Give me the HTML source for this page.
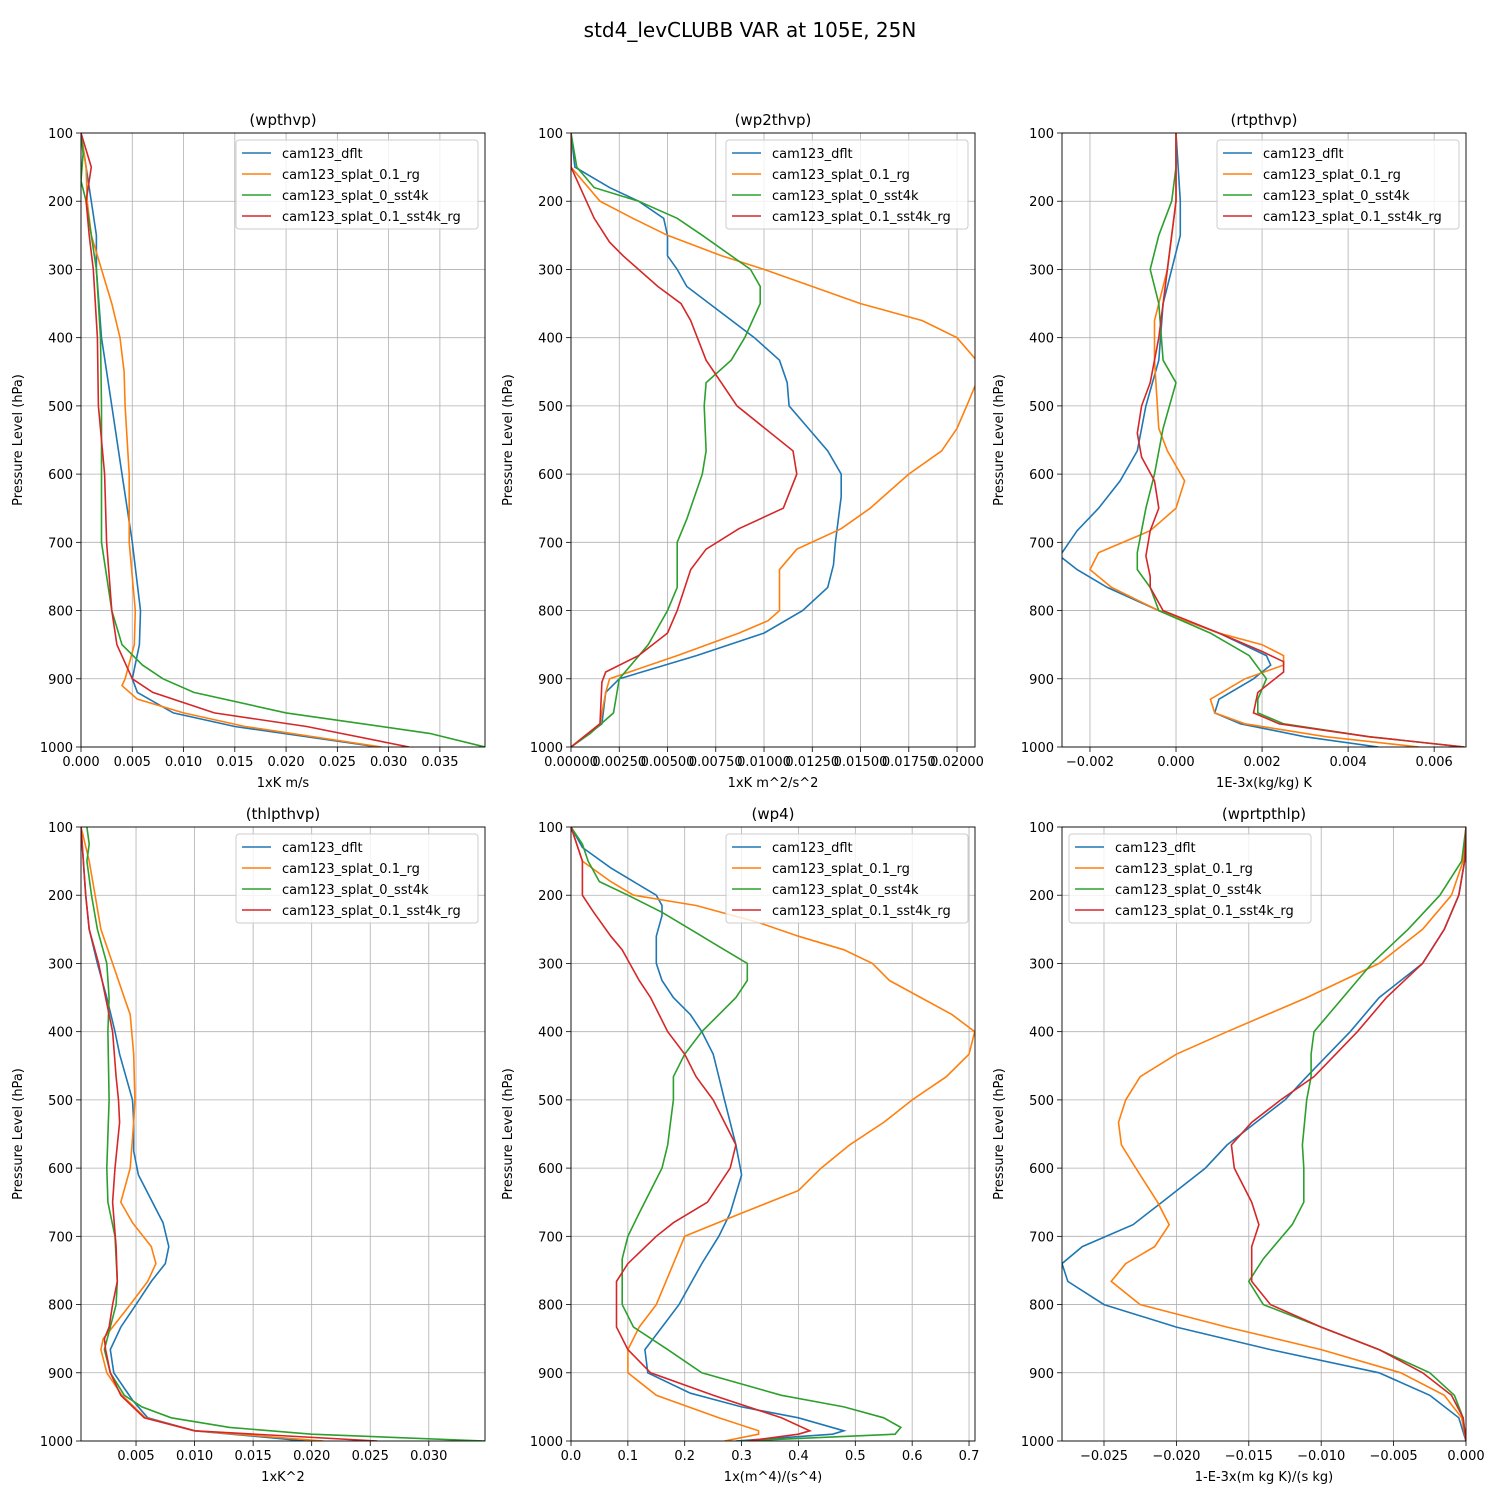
<!DOCTYPE html>
<html><head><meta charset="utf-8">
<style>
body{margin:0;background:#fff;}
svg text{font-family:"DejaVu Sans","Liberation Sans",sans-serif;}
</style></head>
<body>
<svg id="fig" width="1500" height="1500" viewBox="0 0 1500 1500" xmlns="http://www.w3.org/2000/svg">
<rect width="1500" height="1500" fill="#fff"/>
<text x="750" y="37" text-anchor="middle" font-size="20">std4_levCLUBB VAR at 105E, 25N</text>
</svg>
<script>
const seriesNames = ["cam123_dflt","cam123_splat_0.1_rg","cam123_splat_0_sst4k","cam123_splat_0.1_sst4k_rg"];
const colors = ["#1f77b4","#ff7f0e","#2ca02c","#d62728"];
const pressureTicks = [100,200,300,400,500,600,700,800,900,1000];

// panel 1: wpthvp  [pressure, value]
const wpthvp_dflt = [[100,0],[150,0.0005],[200,0.001],[250,0.0015],[300,0.0015],[400,0.002],[500,0.003],[600,0.004],[700,0.005],[800,0.0058],[850,0.0057],[900,0.005],[920,0.0055],[950,0.009],[970,0.015],[1000,0.029]];
const wpthvp_rg = [[100,0],[150,0.0005],[200,0.0006],[250,0.001],[300,0.002],[350,0.003],[400,0.0038],[450,0.0042],[500,0.0043],[600,0.0047],[700,0.0047],[800,0.0053],[850,0.0052],[900,0.0043],[910,0.004],[930,0.0055],[950,0.01],[970,0.016],[1000,0.0293]];
const wpthvp_sst4k = [[100,0],[130,0.0002],[170,0],[200,0.0005],[250,0.001],[300,0.0015],[400,0.0019],[500,0.002],[600,0.002],[700,0.002],[800,0.003],[850,0.004],[880,0.006],[900,0.008],[920,0.011],[950,0.02],[980,0.034],[1000,0.0394]];
const wpthvp_sst4k_rg = [[100,0],[150,0.001],[200,0.0005],[250,0.0008],[300,0.0012],[400,0.0016],[500,0.0017],[600,0.0023],[700,0.0025],[800,0.003],[850,0.0035],[900,0.005],[920,0.007],[950,0.013],[970,0.022],[1000,0.032]];
const wpthvp_ticks = [0,0.005,0.010,0.015,0.020,0.025,0.030,0.035];

// panel 2: wp2thvp
const wp2thvp_dflt = [[100,0],[150,0.0002],[180,0.002],[200,0.0035],[225,0.0048],[250,0.005],[280,0.005],[300,0.0055],[325,0.006],[400,0.0095],[433,0.0108],[466,0.0112],[500,0.0113],[533,0.0123],[566,0.0133],[600,0.014],[633,0.014],[700,0.0137],[733,0.0136],[766,0.0133],[800,0.012],[833,0.01],[866,0.0065],[900,0.0025],[920,0.0018],[966,0.0016],[1000,0]];
const wp2thvp_rg = [[100,0],[150,0],[200,0.0015],[225,0.0032],[250,0.005],[280,0.0078],[300,0.01],[325,0.0125],[350,0.015],[375,0.0182],[400,0.02],[433,0.021],[466,0.021],[500,0.0205],[533,0.02],[566,0.0192],[600,0.0175],[650,0.0155],[680,0.014],[710,0.0117],[740,0.0108],[800,0.0108],[815,0.0102],[833,0.0087],[866,0.0055],[900,0.002],[920,0.0018],[966,0.0015],[1000,0]];
const wp2thvp_sst4k = [[100,0],[150,0.0003],[180,0.0012],[200,0.0035],[225,0.0055],[250,0.0068],[300,0.0093],[325,0.0098],[350,0.0098],[400,0.009],[433,0.0083],[466,0.007],[500,0.0069],[566,0.007],[600,0.0068],[666,0.006],[700,0.0055],[766,0.0055],[800,0.005],[850,0.004],[900,0.0025],[950,0.0022],[980,0.001],[1000,0]];
const wp2thvp_sst4k_rg = [[100,0],[150,0],[200,0.0008],[225,0.0012],[260,0.002],[280,0.0027],[325,0.0045],[350,0.0057],[375,0.0062],[433,0.007],[500,0.0086],[566,0.0115],[600,0.0117],[650,0.011],[680,0.0087],[710,0.007],[740,0.0062],[800,0.0055],[833,0.005],[866,0.0035],[890,0.0018],[905,0.0016],[966,0.0015],[1000,0]];
const wp2thvp_ticks = [0,0.0025,0.005,0.0075,0.01,0.0125,0.015,0.0175,0.02];

// panel 3: rtpthvp
const rtpthvp_dflt = [[100,0],[200,0.0001],[250,0.0001],[300,-0.0001],[350,-0.0003],[433,-0.0004],[500,-0.0007],[566,-0.0009],[610,-0.0013],[650,-0.0018],[683,-0.0023],[720,-0.0027],[740,-0.0023],[766,-0.0016],[800,-0.0004],[833,0.001],[866,0.0021],[880,0.0022],[900,0.0018],[930,0.001],[950,0.0009],[966,0.0015],[985,0.003],[1000,0.0047]];
const rtpthvp_rg = [[100,0],[200,0],[300,-0.0002],[375,-0.0005],[433,-0.0005],[533,-0.0004],[566,-0.0002],[610,0.0002],[650,0],[683,-0.0006],[715,-0.0018],[740,-0.002],[766,-0.0015],[800,-0.0004],[833,0.001],[850,0.002],[866,0.0025],[880,0.0025],[900,0.0016],[930,0.0008],[950,0.0009],[966,0.0016],[985,0.0035],[1000,0.00565]];
const rtpthvp_sst4k = [[100,0],[150,0],[200,-0.0001],[250,-0.0004],[300,-0.0006],[350,-0.0004],[433,-0.0003],[466,0],[533,-0.0003],[600,-0.0005],[650,-0.0007],[715,-0.0009],[740,-0.0009],[766,-0.0006],[800,-0.0004],[833,0.0008],[866,0.0017],[900,0.0021],[930,0.0019],[950,0.0019],[966,0.0025],[985,0.0045],[1000,0.0067]];
const rtpthvp_sst4k_rg = [[100,0],[200,0],[300,-0.0002],[400,-0.0004],[466,-0.0006],[500,-0.0008],[540,-0.0009],[575,-0.0008],[610,-0.0005],[650,-0.0004],[683,-0.0006],[720,-0.0007],[750,-0.0006],[766,-0.0006],[800,-0.0003],[833,0.001],[860,0.002],[875,0.0025],[890,0.0025],[920,0.0019],[950,0.0018],[966,0.0024],[985,0.0045],[1000,0.0067]];
const rtpthvp_ticks = [-0.002,0,0.002,0.004,0.006];

// panel 4: thlpthvp
const thlpthvp_dflt = [[100,0.0003],[200,0.0007],[250,0.001],[300,0.0017],[350,0.0025],[400,0.0032],[433,0.0036],[500,0.0047],[533,0.0048],[575,0.0048],[610,0.0052],[680,0.0073],[715,0.0078],[740,0.0075],[766,0.0063],[800,0.005],[833,0.0037],[866,0.0028],[900,0.0031],[940,0.0047],[966,0.006],[985,0.01],[1000,0.0195]];
const thlpthvp_rg = [[100,0.0003],[150,0.001],[200,0.0015],[250,0.002],[300,0.003],[350,0.004],[375,0.0045],[433,0.0048],[500,0.0049],[533,0.0048],[600,0.0045],[650,0.0037],[680,0.0047],[715,0.0063],[740,0.0067],[766,0.006],[800,0.0045],[833,0.003],[850,0.0022],[866,0.002],[900,0.0025],[933,0.0038],[966,0.0058],[985,0.01],[1000,0.021]];
const thlpthvp_sst4k = [[100,0.0008],[125,0.001],[150,0.0008],[200,0.0012],[250,0.0017],[300,0.0025],[350,0.0027],[400,0.0026],[500,0.0027],[600,0.0025],[650,0.0026],[700,0.0032],[766,0.0034],[800,0.0033],[833,0.0028],[866,0.0023],[900,0.0028],[933,0.004],[950,0.0055],[966,0.008],[980,0.013],[990,0.02],[1000,0.0348]];
const thlpthvp_sst4k_rg = [[100,0.0003],[200,0.0007],[250,0.001],[300,0.0018],[350,0.0024],[400,0.003],[466,0.0033],[500,0.0035],[533,0.0036],[600,0.0032],[650,0.003],[715,0.0033],[766,0.0034],[800,0.003],[833,0.0027],[850,0.0023],[866,0.0024],[900,0.0028],[933,0.0037],[966,0.0057],[985,0.01],[1000,0.0256]];
const thlpthvp_ticks = [0.005,0.010,0.015,0.020,0.025,0.030];

// panel 5: wp4
const wp4_dflt = [[100,0],[130,0.02],[160,0.07],[180,0.11],[200,0.15],[215,0.16],[230,0.16],[260,0.15],[300,0.15],[325,0.16],[350,0.18],[375,0.21],[400,0.23],[433,0.25],[466,0.26],[500,0.27],[533,0.28],[566,0.29],[610,0.3],[666,0.28],[700,0.26],[740,0.23],[800,0.19],[833,0.16],[866,0.13],[900,0.135],[930,0.21],[950,0.3],[966,0.4],[985,0.48],[990,0.46],[1000,0.29]];
const wp4_rg = [[100,0],[150,0.02],[180,0.07],[200,0.11],[215,0.22],[240,0.33],[260,0.4],[280,0.48],[300,0.53],[325,0.56],[375,0.67],[400,0.71],[433,0.7],[466,0.66],[500,0.6],[533,0.55],[566,0.49],[600,0.44],[633,0.4],[666,0.3],[700,0.2],[740,0.18],[800,0.15],[833,0.12],[866,0.1],[900,0.1],[933,0.15],[966,0.26],[985,0.33],[990,0.33],[1000,0.27]];
const wp4_sst4k = [[100,0],[125,0.02],[150,0.03],[180,0.05],[200,0.1],[225,0.16],[250,0.21],[275,0.26],[300,0.31],[325,0.31],[350,0.29],[400,0.23],[433,0.2],[466,0.18],[500,0.18],[533,0.175],[566,0.17],[600,0.16],[666,0.12],[700,0.1],[733,0.09],[766,0.09],[800,0.09],[833,0.11],[866,0.17],[900,0.23],[933,0.37],[950,0.48],[966,0.55],[980,0.58],[990,0.57],[1000,0.3]];
const wp4_sst4k_rg = [[100,0],[150,0.02],[200,0.02],[225,0.04],[260,0.07],[280,0.09],[325,0.12],[350,0.14],[400,0.17],[433,0.2],[466,0.22],[500,0.25],[533,0.27],[566,0.29],[600,0.28],[650,0.24],[680,0.18],[700,0.15],[740,0.1],[766,0.08],[800,0.08],[833,0.08],[866,0.1],[900,0.14],[933,0.25],[966,0.37],[985,0.42],[990,0.4],[1000,0.31]];
const wp4_ticks = [0,0.1,0.2,0.3,0.4,0.5,0.6,0.7];

// panel 6: wprtpthlp
const wprtpthlp_dflt = [[100,0],[150,-0.0001],[200,-0.0005],[250,-0.0015],[300,-0.003],[350,-0.006],[400,-0.008],[433,-0.0095],[466,-0.011],[500,-0.0125],[533,-0.0145],[566,-0.0165],[600,-0.018],[650,-0.021],[683,-0.023],[715,-0.0265],[740,-0.0279],[766,-0.0275],[800,-0.025],[833,-0.02],[866,-0.0135],[900,-0.006],[933,-0.0025],[966,-0.0005],[1000,0]];
const wprtpthlp_rg = [[100,0],[150,-0.0002],[200,-0.001],[250,-0.003],[300,-0.006],[350,-0.011],[400,-0.0165],[433,-0.02],[466,-0.0225],[500,-0.0235],[533,-0.024],[566,-0.0238],[600,-0.0228],[650,-0.0213],[683,-0.0205],[715,-0.0215],[740,-0.0235],[766,-0.0245],[800,-0.0225],[833,-0.0165],[866,-0.01],[900,-0.0045],[933,-0.0015],[966,-0.0003],[1000,0]];
const wprtpthlp_sst4k = [[100,0],[150,-0.0003],[200,-0.0018],[250,-0.004],[300,-0.0065],[350,-0.0085],[400,-0.0105],[433,-0.0107],[466,-0.0107],[500,-0.011],[566,-0.0113],[600,-0.0112],[650,-0.0112],[683,-0.012],[733,-0.014],[766,-0.015],[800,-0.014],[833,-0.01],[866,-0.006],[900,-0.0025],[933,-0.0008],[966,-0.0002],[1000,0]];
const wprtpthlp_sst4k_rg = [[100,0],[150,-0.0001],[200,-0.0005],[250,-0.0015],[300,-0.003],[350,-0.0055],[400,-0.0075],[433,-0.009],[466,-0.0105],[500,-0.0128],[533,-0.0148],[566,-0.0162],[600,-0.016],[650,-0.0148],[683,-0.0143],[715,-0.0148],[766,-0.0148],[800,-0.0135],[833,-0.01],[866,-0.006],[900,-0.003],[933,-0.001],[966,-0.0002],[1000,0]];
const wprtpthlp_ticks = [-0.025,-0.020,-0.015,-0.010,-0.005,0];

const panels = [
 {name:"wpthvp",title:"(wpthvp)",xl:"1xK m/s",box:[81,133,485,747],xr:[0,0.0394],ticks:wpthvp_ticks,dec:3,series:[wpthvp_dflt,wpthvp_rg,wpthvp_sst4k,wpthvp_sst4k_rg],leg:"right"},
 {name:"wp2thvp",title:"(wp2thvp)",xl:"1xK m^2/s^2",box:[571,133,975,747],xr:[0,0.02093],ticks:wp2thvp_ticks,dec:5,series:[wp2thvp_dflt,wp2thvp_rg,wp2thvp_sst4k,wp2thvp_sst4k_rg],leg:"right"},
 {name:"rtpthvp",title:"(rtpthvp)",xl:"1E-3x(kg/kg) K",box:[1062,133,1466,747],xr:[-0.00265,0.00674],ticks:rtpthvp_ticks,dec:3,series:[rtpthvp_dflt,rtpthvp_rg,rtpthvp_sst4k,rtpthvp_sst4k_rg],leg:"right"},
 {name:"thlpthvp",title:"(thlpthvp)",xl:"1xK^2",box:[81,827,485,1441],xr:[0.0003,0.0348],ticks:thlpthvp_ticks,dec:3,series:[thlpthvp_dflt,thlpthvp_rg,thlpthvp_sst4k,thlpthvp_sst4k_rg],leg:"right"},
 {name:"wp4",title:"(wp4)",xl:"1x(m^4)/(s^4)",box:[571,827,975,1441],xr:[0,0.7105],ticks:wp4_ticks,dec:1,series:[wp4_dflt,wp4_rg,wp4_sst4k,wp4_sst4k_rg],leg:"right"},
 {name:"wprtpthlp",title:"(wprtpthlp)",xl:"1-E-3x(m kg K)/(s kg)",box:[1062,827,1466,1441],xr:[-0.0279,0],ticks:wprtpthlp_ticks,dec:3,series:[wprtpthlp_dflt,wprtpthlp_rg,wprtpthlp_sst4k,wprtpthlp_sst4k_rg],leg:"left"}
];

const NS="http://www.w3.org/2000/svg";
const svg=document.getElementById('fig');
function mk(tag,attrs,parent,text){const e=document.createElementNS(NS,tag);for(const k in attrs)e.setAttribute(k,attrs[k]);if(text!==undefined)e.textContent=text;parent.appendChild(e);return e;}
function fmt(v,d){const s=Math.abs(v).toFixed(d);return (v<-1e-12?"\u2212":"")+s;}

panels.forEach(P=>{
  const [x0,y0,x1,y1]=P.box;
  const sx=v=>x0+(v-P.xr[0])/(P.xr[1]-P.xr[0])*(x1-x0);
  const sy=p=>y0+(p-100)/900*(y1-y0);
  const g=mk('g',{},svg);
  
  
  const grid=mk('g',{},g);
  
  
  P.ticks.forEach(t=>{const x=sx(t);mk('line',{x1:x,x2:x,y1:y0,y2:y1,stroke:'#b0b0b0','stroke-width':0.8},grid);
    mk('line',{x1:x,x2:x,y1:y1,y2:y1+5,stroke:'#000','stroke-width':0.8},g);
    const tl=mk('text',{x:x,y:y1+19,'text-anchor':'middle','font-size':13},g,fmt(t,P.dec));
    
    
  });
  pressureTicks.forEach(p=>{const y=sy(p);mk('line',{x1:x0,x2:x1,y1:y,y2:y,stroke:'#b0b0b0','stroke-width':0.8},grid);
    mk('line',{x1:x0-5,x2:x0,y1:y,y2:y,stroke:'#000','stroke-width':0.8},g);
    const tl=mk('text',{x:x0-8,y:y+5,'text-anchor':'end','font-size':13},g,String(p));
    
    
  });
  const clipId='clip-'+P.name;
  const cp=mk('clipPath',{id:clipId},g);mk('rect',{x:x0,y:y0,width:x1-x0,height:y1-y0},cp);
  P.series.forEach((s,i)=>{
    const d=s.map((pt,j)=>(j?'L':'M')+sx(pt[1]).toFixed(1)+','+sy(pt[0]).toFixed(1)).join('');
    const path=mk('path',{d:d,fill:'none',stroke:colors[i],'stroke-width':1.6,'clip-path':'url(#'+clipId+')'},g);
    
    
  });
  mk('rect',{x:x0,y:y0,width:x1-x0,height:y1-y0,fill:'none',stroke:'#000','stroke-width':0.9},g);
  const ti=mk('text',{x:(x0+x1)/2,y:y0-8,'text-anchor':'middle','font-size':15},g,P.title);
  
  
  const xl=mk('text',{x:(x0+x1)/2,y:y1+40,'text-anchor':'middle','font-size':13},g,P.xl);
  
  
  const yl=mk('text',{x:0,y:0,'text-anchor':'middle','font-size':13,transform:'translate('+(x0-59)+','+((y0+y1)/2)+') rotate(-90)'},g,'Pressure Level (hPa)');
  
  
  // legend
  const lx=P.leg==='right'?x1-249:x0+7, ly=y0+7;
  const lg=mk('g',{},g);
  
  
  mk('rect',{x:lx,y:ly,width:242,height:89,rx:3,fill:'#fff','fill-opacity':0.8,stroke:'#ccc'},lg);
  seriesNames.forEach((n,i)=>{
    const yy=ly+13+i*21;
    const le=mk('g',{},lg);
    
    
    mk('line',{x1:lx+6,x2:lx+35,y1:yy,y2:yy,stroke:colors[i],'stroke-width':1.6},le);
    mk('text',{x:lx+46,y:yy+5,'font-size':13},le,n);
  });
});
</script>
</body></html>
